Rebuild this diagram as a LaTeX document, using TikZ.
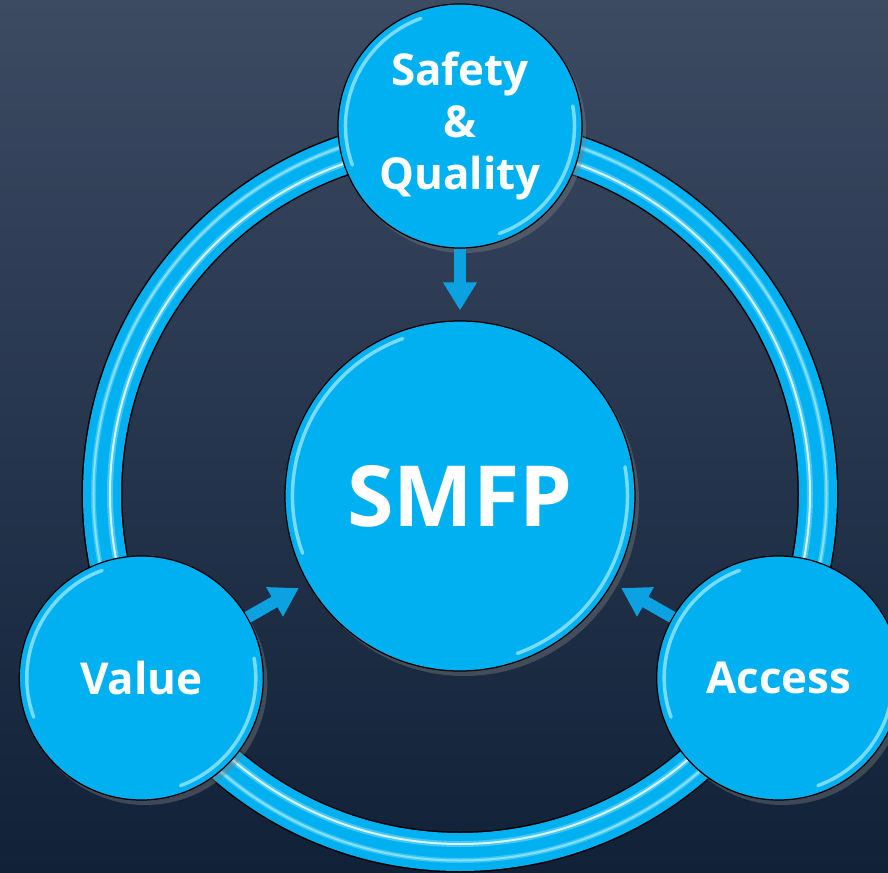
\documentclass[tikz,border=0pt]{standalone}
\usepackage{fontspec}
\setmainfont{Open Sans}
\usetikzlibrary{arrows.meta,shadows}

\definecolor{bgtop}{RGB}{60,74,98}
\definecolor{bgbot}{RGB}{16,33,56}
\definecolor{pblue}{RGB}{0,176,240}
\definecolor{ablue}{RGB}{12,162,226}
\definecolor{gloss}{RGB}{170,238,255}

\begin{document}
\begin{tikzpicture}[
		hub/.style={circle, draw=black, line width=0.7pt, fill=pblue, text=white, align=center,
			drop shadow={shadow xshift=0.08cm, shadow yshift=-0.1cm, opacity=0.4}},
		small/.style={hub, minimum size=4.88cm, font=\fontsize{25}{29.6}\selectfont\bfseries},
		arr/.style={ablue, line width=0.24cm, -{Triangle[length=0.56cm, width=0.64cm]}, shorten >=0.2cm}
	]
  \useasboundingbox (-9.2,-7.56) rectangle (8.56,9.88);
  \shade[top color=bgtop, bottom color=bgbot] (-9.2,-7.56) rectangle (8.56,9.88);
  % ring
  \draw[black, line width=0.82cm] (0,0) circle (7.16cm);
  \draw[pblue, line width=0.76cm] (0,0) circle (7.16cm);
  \draw[gloss, line width=0.1cm, opacity=0.35] (0,0) circle (7.33cm);
  \draw[gloss, line width=0.04cm, opacity=0.7] (0,0) circle (7.33cm);
  \draw[gloss, line width=0.12cm, opacity=0.4] (0,0) circle (7.0cm);
  \draw[white, line width=0.04cm, opacity=0.8] (0,0) circle (7.0cm);
  % circles
  \node (smfp) [hub, minimum size=7cm, font=\fontsize{48}{56}\selectfont\bfseries] at (0,-0.04) {SMFP};
  \node (sq) [small] at (90:7.36cm) {Safety\\\&\\Quality};
  \node (val) [small] at (210:7.36cm) {Value};
  \node (acc) [small] at (330:7.36cm) {Access};
  \foreach \n/\r in {smfp/3.5, sq/2.44, val/2.44, acc/2.44} {
    \draw[gloss, line width=0.07cm, opacity=0.7, line cap=round] (\n.center) ++(110:{\r-0.15}) arc[start angle=110, end angle=200, radius={\r-0.15}];
    \draw[gloss, line width=0.07cm, opacity=0.7, line cap=round] (\n.center) ++(-70:{\r-0.15}) arc[start angle=-70, end angle=10, radius={\r-0.15}];
  }
  % arrows
  \draw[arr] (sq) -- (smfp);
  \draw[arr] (val) -- (smfp);
  \draw[arr] (acc) -- (smfp);
\end{tikzpicture}
\end{document}
